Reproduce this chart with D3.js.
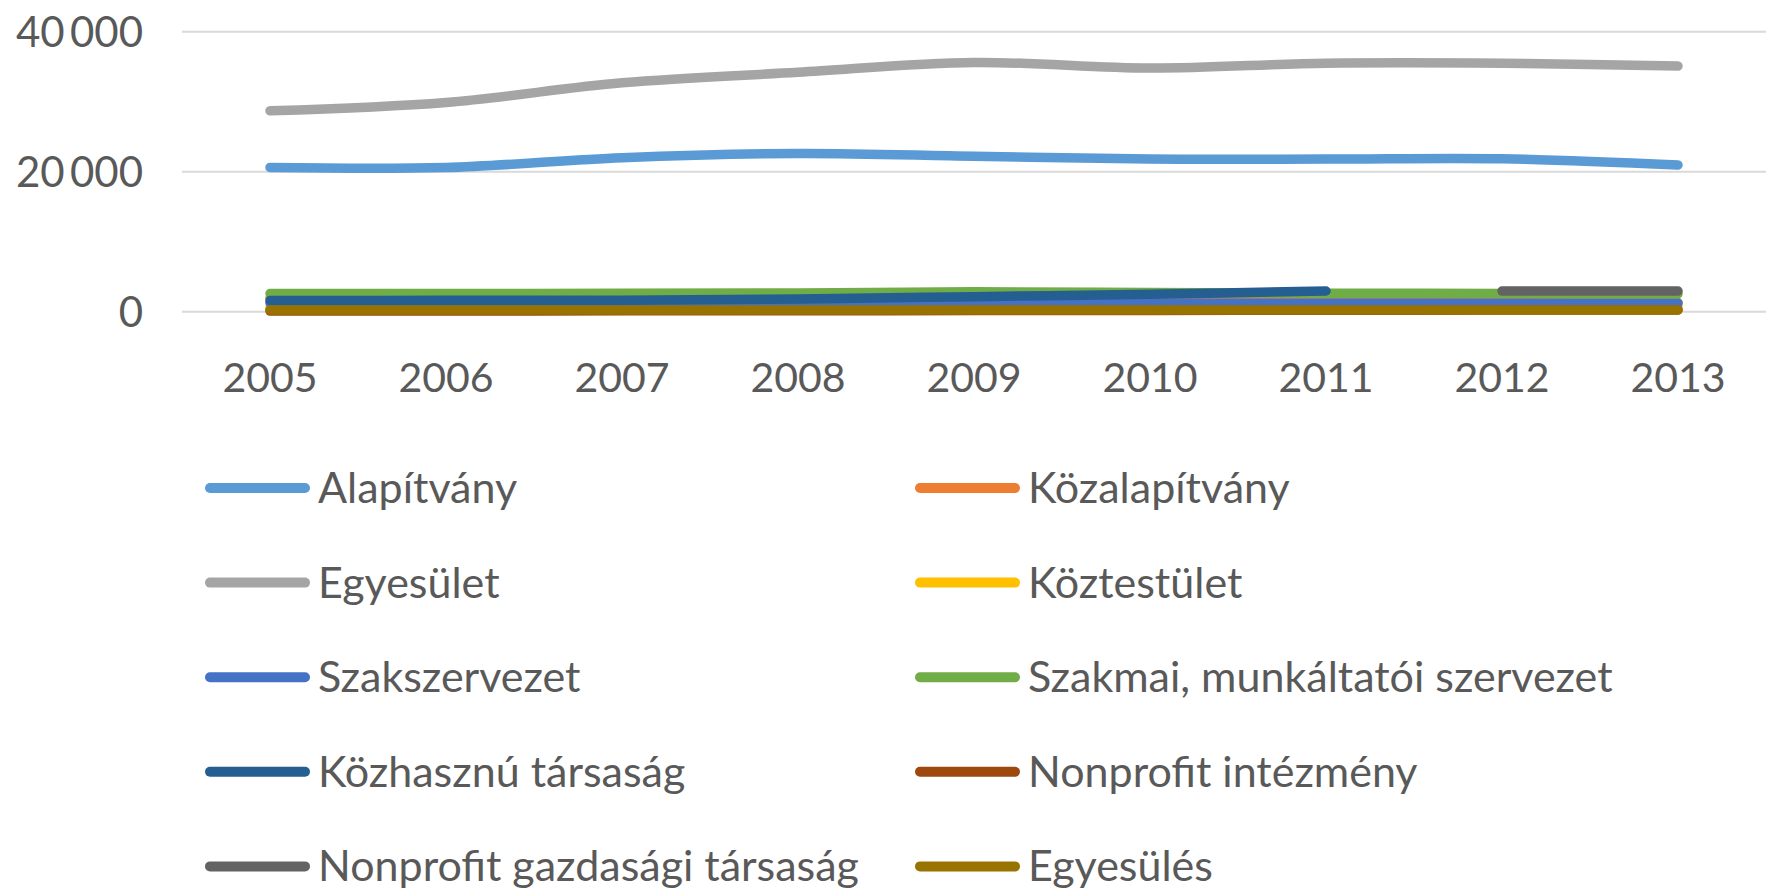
<!DOCTYPE html>
<html>
<head>
<meta charset="utf-8">
<script src="https://cdn.jsdelivr.net/npm/d3@7"></script>
<style>
    html, body { margin: 0; padding: 0; background: #ffffff; }
    svg { display: block; }
</style>
</head>
<body>
<div id="chart"></div>
<script>
(function () {
    "use strict";

    const years = ["2005", "2006", "2007", "2008", "2009", "2010", "2011", "2012", "2013"];
    const yTicks = [0, 20000, 40000];

    const seriesNames = [
        "Alapítvány",
        "Közalapítvány",
        "Egyesület",
        "Köztestület",
        "Szakszervezet",
        "Szakmai, munkáltatói szervezet",
        "Közhasznú társaság",
        "Nonprofit intézmény",
        "Nonprofit gazdasági társaság",
        "Egyesülés"
    ];

    const alapitvany = [20600, 20600, 22000, 22600, 22200, 21800, 21800, 21850, 20950];
    const kozalapitvany = [1950, 1900, 1850, 1800, 1700, 1600, 1450, 1350, 1300];
    const egyesulet = [28700, 29900, 32700, 34200, 35600, 34800, 35500, 35500, 35100];
    const koztestulet = [610, 625, 640, 655, 665, 670, 690, 700, 705];
    const szakszervezet = [1250, 1250, 1240, 1240, 1230, 1220, 1220, 1210, 1200];
    const szakmai = [2600, 2600, 2620, 2680, 2850, 2750, 2650, 2600, 2550];
    const kozhasznu = [1600, 1620, 1650, 1800, 2150, 2500, 2950, null, null];
    const nonprofitIntezmeny = [90, 100, 120, 140, 160, 180, 200, 230, 250];
    const nonprofitGazdasagi = [null, null, null, null, null, null, null, 2950, 2950];
    const egyesules = [250, 250, 245, 245, 240, 240, 240, 240, 240];

    const seriesValues = [
        alapitvany, kozalapitvany, egyesulet, koztestulet, szakszervezet,
        szakmai, kozhasznu, nonprofitIntezmeny, nonprofitGazdasagi, egyesules
    ];

    const colors = [
        "#5b9bd5", "#ed7d31", "#a5a5a5", "#ffc000", "#4472c4",
        "#70ad47", "#255e91", "#9e480e", "#636363", "#997300"
    ];

    const width = 1766;
    const height = 891;
    const plot = { left: 182, right: 1766, top: 31.7, bottom: 311.7 };
    const textColor = "#595959";
    const font = "Lato, 'Open Sans', sans-serif";

    const svg = d3.select("#chart")
        .append("svg")
        .attr("width", width)
        .attr("height", height)
        .attr("viewBox", [0, 0, width, height]);

    svg.append("rect")
        .attr("width", width)
        .attr("height", height)
        .attr("fill", "#ffffff");

    const x = d3.scalePoint()
        .domain(years)
        .range([plot.left, plot.right])
        .padding(0.5);

    const y = d3.scaleLinear()
        .domain([0, 40000])
        .range([plot.bottom, plot.top]);

    // gridlines
    svg.append("g")
        .selectAll("line")
        .data(yTicks)
        .join("line")
        .attr("x1", plot.left)
        .attr("x2", plot.right)
        .attr("y1", (d) => y(d))
        .attr("y2", (d) => y(d))
        .attr("stroke", "#d9d9d9")
        .attr("stroke-width", 2);

    // y axis labels, Hungarian grouping with a space
    const formatTick = (d) => d3.format(",")(d).replace(/,/g, "\u2009");

    svg.append("g")
        .selectAll("text")
        .data(yTicks)
        .join("text")
        .attr("x", 143)
        .attr("y", (d) => y(d) + 15)
        .attr("text-anchor", "end")
        .attr("fill", textColor)
        .style("font", `42px ${font}`)
        .text(formatTick);

    // x axis labels
    svg.append("g")
        .selectAll("text")
        .data(years)
        .join("text")
        .attr("x", (d) => x(d))
        .attr("y", 392)
        .attr("text-anchor", "middle")
        .attr("fill", textColor)
        .style("font", `41px ${font}`)
        .text((d) => d);

    const series = seriesNames.map((name, i) => ({
        name,
        color: colors[i],
        values: years.map((year, j) => ({ year, value: seriesValues[i][j] }))
    }));

    const line = d3.line()
        .defined((d) => d.value !== null)
        .x((d) => x(d.year))
        .y((d) => y(d.value))
        .curve(d3.curveCatmullRom.alpha(0.5));

    svg.append("g")
        .selectAll("path")
        .data(series)
        .join("path")
        .attr("d", (d) => line(d.values))
        .attr("fill", "none")
        .attr("stroke", (d) => d.color)
        .attr("stroke-width", 9.5)
        .attr("stroke-linecap", "round")
        .attr("stroke-linejoin", "round");

    // legend: two columns, read row by row
    const legendCols = [205, 915];
    const legendRowTop = 488;
    const legendRowStep = 94.6;

    const legendItem = svg.append("g")
        .selectAll("g")
        .data(series)
        .join("g")
        .attr("transform", (d, i) => {
            const col = i % 2;
            const row = Math.floor(i / 2);
            return `translate(${legendCols[col]},${legendRowTop + row * legendRowStep})`;
        });

    legendItem.append("line")
        .attr("x1", 5)
        .attr("x2", 100)
        .attr("y1", 0)
        .attr("y2", 0)
        .attr("stroke", (d) => d.color)
        .attr("stroke-width", 10)
        .attr("stroke-linecap", "round");

    legendItem.append("text")
        .attr("x", 113)
        .attr("y", 15)
        .attr("fill", textColor)
        .style("font", `43px ${font}`)
        .text((d) => d.name);
})();
</script>
</body>
</html>
